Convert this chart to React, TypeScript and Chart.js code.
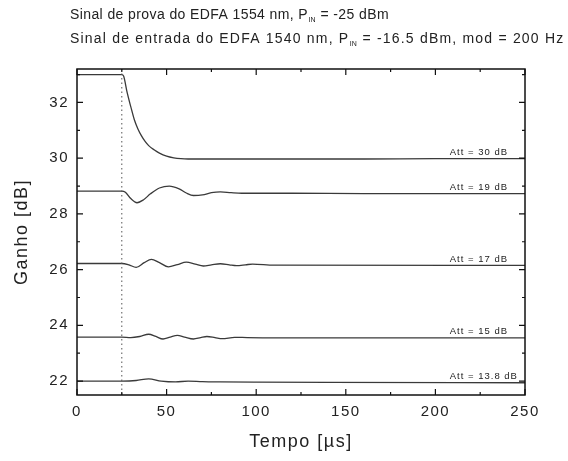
import React, { useEffect, useRef } from 'react';
import { Chart, registerables } from 'chart.js';

Chart.register(...registerables);

// ---- data ----
const timeAtt30 = [0, 25, 26, 28, 30, 32, 34, 36, 38, 40, 43, 46, 50, 54, 58, 62, 80, 120, 160, 200, 250];
const gainAtt30 = [33.0, 33.0, 32.95, 32.35, 31.85, 31.38, 31.05, 30.8, 30.6, 30.45, 30.3, 30.18, 30.07, 30.01, 29.98, 29.97, 29.97, 29.97, 29.97, 29.98, 29.98];

const timeAtt19 = [0, 25, 27, 30, 33.5, 37, 41, 46, 51.5, 57, 61, 65, 70, 75, 80, 86, 92, 100, 120, 160, 250];
const gainAtt19 = [28.82, 28.82, 28.78, 28.55, 28.4, 28.5, 28.72, 28.93, 29.0, 28.9, 28.75, 28.66, 28.68, 28.76, 28.79, 28.76, 28.74, 28.74, 28.74, 28.73, 28.73];

const timeAtt17 = [0, 25, 29, 33, 37.5, 41.5, 46, 51, 56, 61, 66, 70.5, 75, 80, 85, 89, 94, 98, 110, 250];
const gainAtt17 = [26.22, 26.22, 26.17, 26.08, 26.25, 26.37, 26.25, 26.1, 26.18, 26.27, 26.2, 26.13, 26.17, 26.21, 26.17, 26.14, 26.17, 26.2, 26.16, 26.15];

const timeAtt15 = [0, 25, 30, 35, 40, 44, 48, 52, 56, 60, 65, 69, 72.5, 77, 81, 88, 95, 110, 250];
const gainAtt15 = [23.58, 23.58, 23.56, 23.6, 23.68, 23.6, 23.51, 23.58, 23.64, 23.58, 23.51, 23.56, 23.6, 23.56, 23.52, 23.57, 23.56, 23.55, 23.55];

const timeAtt138 = [0, 25, 33, 40, 47, 55, 62, 70, 80, 100, 140, 250];
const gainAtt138 = [22.0, 22.0, 22.02, 22.08, 22.0, 21.97, 22.0, 21.98, 21.97, 21.96, 21.95, 21.94];

const attLabels = ['Att = 30 dB', 'Att = 19 dB', 'Att = 17 dB', 'Att = 15 dB', 'Att = 13.8 dB'];
const labelGains = [29.98, 28.73, 26.15, 23.55, 21.94];
const labelTime = 208;
const markerTime = 25;

const xTickValues = [0, 50, 100, 150, 200, 250];
const xMinorValues = [25, 75, 125, 175, 225];
const yTickValues = [22, 24, 26, 28, 30, 32];
const yMinorValues = [23, 25, 27, 29, 31, 33];

const titleLine1 = ['Sinal de prova do EDFA 1554 nm, P', 'IN', ' = -25 dBm'];
const titleLine2 = ['Sinal de entrada do EDFA 1540 nm, P', 'IN', ' = -16.5 dBm, mod = 200 Hz'];

const FONT = "'Liberation Sans', Arial, sans-serif";

const spacingPlugin = {
  id: 'spacingPlugin',
  beforeDraw(chart: any) {
    (chart.ctx as any).letterSpacing = '1.5px';
  },
};

const framePlugin = {
  id: 'framePlugin',
  afterDatasetsDraw(chart: any) {
    const { ctx, chartArea } = chart;
    const { left, right, top, bottom } = chartArea;
    const xs = chart.scales.x;
    const ys = chart.scales.y;
    ctx.save();
    // dotted marker
    const mx = xs.getPixelForValue(markerTime);
    ctx.strokeStyle = '#555';
    ctx.lineWidth = 1;
    ctx.setLineDash([1.5, 3]);
    ctx.beginPath();
    ctx.moveTo(mx, top);
    ctx.lineTo(mx, bottom);
    ctx.stroke();
    ctx.setLineDash([]);

    // frame
    ctx.strokeStyle = '#111';
    ctx.lineWidth = 1.5;
    ctx.strokeRect(left, top, right - left, bottom - top);

    // ticks
    ctx.lineWidth = 1.2;
    const drawX = (vals: number[], len: number) => {
      vals.forEach((v) => {
        const p = xs.getPixelForValue(v);
        ctx.beginPath();
        ctx.moveTo(p, bottom);
        ctx.lineTo(p, bottom - len);
        ctx.moveTo(p, top);
        ctx.lineTo(p, top + len);
        ctx.stroke();
      });
    };
    const drawY = (vals: number[], len: number) => {
      vals.forEach((v) => {
        const p = ys.getPixelForValue(v);
        if (p < top - 0.5 || p > bottom + 0.5) return;
        ctx.beginPath();
        ctx.moveTo(left, p);
        ctx.lineTo(left + len, p);
        ctx.moveTo(right, p);
        ctx.lineTo(right - len, p);
        ctx.stroke();
      });
    };
    drawX(xTickValues, 6);
    drawX(xMinorValues, 3);
    drawY(yTickValues, 6);
    drawY(yMinorValues, 3);

    // attenuation labels
    ctx.fillStyle = '#222';
    ctx.font = `9.5px ${FONT}`;
    ctx.letterSpacing = '1px';
    ctx.textAlign = 'left';
    ctx.textBaseline = 'middle';
    const lx = xs.getPixelForValue(labelTime);
    attLabels.forEach((t, i) => {
      ctx.fillText(t, lx, ys.getPixelForValue(labelGains[i]) - 6.5);
    });

    // title with subscript
    const drawTitle = (parts: string[], y: number, spacing: number) => {
      let x = 70;
      ctx.letterSpacing = `${spacing}px`;
      ctx.textAlign = 'left';
      ctx.textBaseline = 'alphabetic';
      ctx.font = `14px ${FONT}`;
      ctx.fillText(parts[0], x, y);
      x += ctx.measureText(parts[0]).width;
      ctx.letterSpacing = '0px';
      ctx.font = `7px ${FONT}`;
      ctx.fillText(parts[1], x + 0.5, y + 3);
      x += ctx.measureText(parts[1]).width + 1;
      ctx.letterSpacing = `${spacing}px`;
      ctx.font = `14px ${FONT}`;
      ctx.fillText(parts[2], x, y);
    };
    drawTitle(titleLine1, 19, 0.4);
    drawTitle(titleLine2, 43, 1.2);
    ctx.restore();
  },
};

export default function App() {
  const ref = useRef<HTMLCanvasElement | null>(null);
  useEffect(() => {
    if (!ref.current) return;
    const series = [
      [timeAtt30, gainAtt30],
      [timeAtt19, gainAtt19],
      [timeAtt17, gainAtt17],
      [timeAtt15, gainAtt15],
      [timeAtt138, gainAtt138],
    ];
    const chart = new Chart(ref.current, {
      type: 'line',
      data: {
        datasets: series.map(([t, g], i) => ({
          label: attLabels[i],
          data: t.map((tv, j) => ({ x: tv, y: g[j] })),
          borderColor: '#3a3a3a',
          borderWidth: 1.3,
          pointRadius: 0,
          cubicInterpolationMode: 'monotone' as const,
          fill: false,
        })),
      },
      options: {
        responsive: false,
        animation: false,
        layout: { padding: { top: 69, right: 43, left: 0, bottom: 0 } },
        plugins: { legend: { display: false }, tooltip: { enabled: false }, title: { display: false } },
        scales: {
          x: {
            type: 'linear',
            min: 0,
            max: 250,
            grid: { display: false, drawTicks: false },
            border: { display: false },
            afterBuildTicks: (s: any) => {
              s.ticks = xTickValues.map((v) => ({ value: v }));
            },
            afterFit: (s: any) => {
              s.height = 66;
            },
            ticks: { font: { family: FONT, size: 15 }, color: '#222', padding: 8, maxRotation: 0 },
            title: {
              display: true,
              text: 'Tempo [µs]',
              font: { family: FONT, size: 18 },
              color: '#222',
              padding: { top: 0, bottom: 8 },
            },
          },
          y: {
            type: 'linear',
            min: 21.5,
            max: 33.2,
            grid: { display: false, drawTicks: false },
            border: { display: false },
            afterBuildTicks: (s: any) => {
              s.ticks = yTickValues.map((v) => ({ value: v }));
            },
            afterFit: (s: any) => {
              s.width = 77;
            },
            ticks: { font: { family: FONT, size: 15 }, color: '#222', padding: 8 },
            title: {
              display: true,
              text: 'Ganho [dB]',
              font: { family: FONT, size: 18 },
              color: '#222',
              padding: { top: 11, bottom: 0 },
            },
          },
        },
      },
      plugins: [spacingPlugin, framePlugin],
    });
    return () => chart.destroy();
  }, []);
  return (
    <div style={{ position: 'fixed', left: 0, top: 0, width: 568, height: 461, background: '#fff' }}>
      <canvas ref={ref} width={568} height={461} />
    </div>
  );
}
